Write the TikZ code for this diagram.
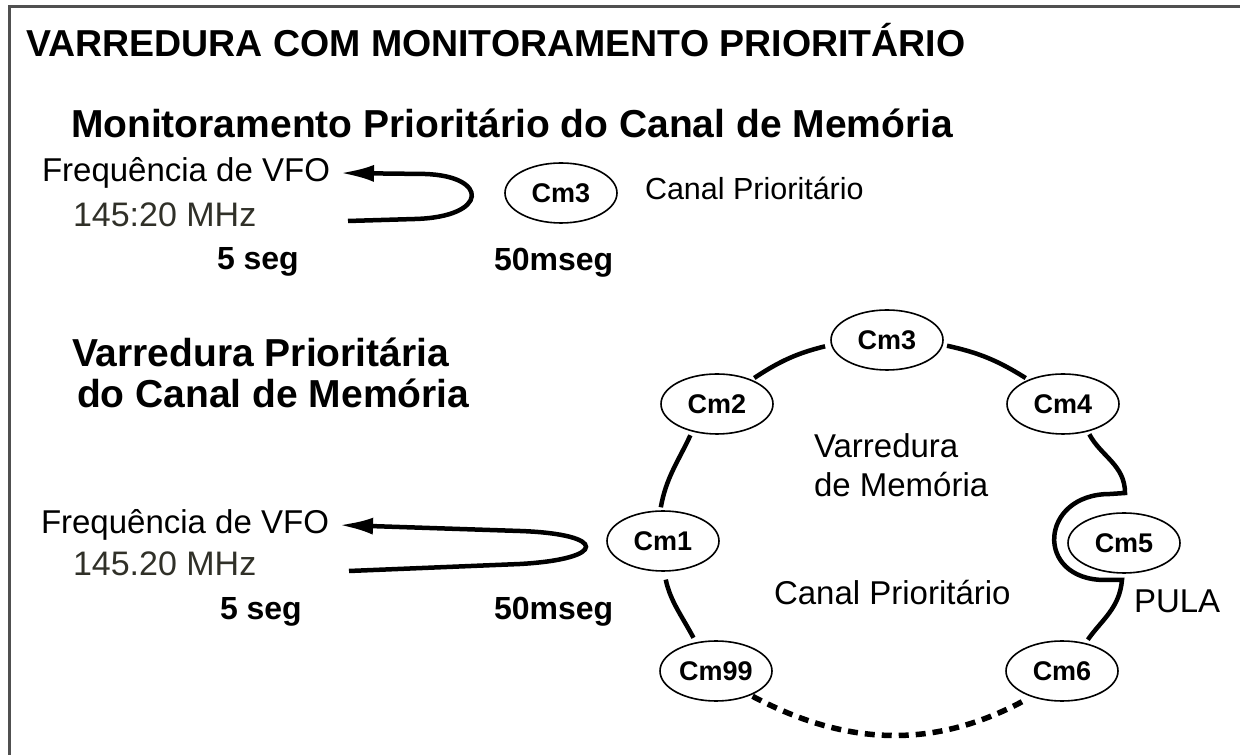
\documentclass[tikz,border=0pt]{standalone}
\usepackage{fontspec}
\setmainfont{Liberation Sans}
\usetikzlibrary{shapes.geometric,arrows.meta,calc}
\definecolor{framegray}{RGB}{80,80,80}
\definecolor{freqgray}{RGB}{48,48,40}
\begin{document}
\begin{tikzpicture}[x=1pt,y=1pt,
  lbl/.style={anchor=base west,inner sep=0pt,outer sep=0pt},
  titletxt/.style={lbl,font=\bfseries\fontsize{37.5}{37.5}\selectfont},
  headtxt/.style={lbl,font=\bfseries\fontsize{39}{39}\selectfont},
  freqtxt/.style={lbl,font=\fontsize{33}{33}\selectfont},
  mhztxt/.style={lbl,text=freqgray,font=\fontsize{34}{34}\selectfont},
  segtxt/.style={lbl,font=\bfseries\fontsize{32}{32}\selectfont},
  cptxt/.style={lbl,font=\fontsize{30.5}{30.5}\selectfont},
  ringlbl/.style={lbl,font=\fontsize{33}{33}\selectfont},
  cmnode/.style={ellipse,draw,line width=1.6pt,minimum width=112pt,minimum height=60pt,
    inner sep=0pt,font=\bfseries\fontsize{27}{27}\selectfont},
  loopline/.style={line width=4.5pt,-{Latex[length=34pt,width=17pt]}},
  ringline/.style={line width=4.5pt},
  dashring/.style={line width=5.5pt,dash pattern=on 10pt off 7pt},
  framestyle/.style={line width=3pt,draw=framegray}
]
\useasboundingbox (0,0) rectangle (1240,755);
% frame
\draw[framestyle] (1240,748) -- (9,748) -- (9,0);

% ---- upper part
\node[titletxt] (title) at (26,698) {VARREDURA COM MONITORAMENTO PRIORITÁRIO};
\node[headtxt] (sub) at (71,617) {Monitoramento Prioritário do Canal de Memória};
\node[freqtxt] (freq1) at (42,573) {Frequência de VFO};
\node[mhztxt] (mhz1) at (73,528) {145:20 MHz};
\node[segtxt] (seg1) at (217,485) {5 seg};
\node[segtxt] (ms1) at (494,484) {50mseg};
\node[cmnode] (cmtop) at (561,562) {Cm3};
\node[cptxt] (cp1) at (645,555) {Canal Prioritário};

\coordinate (start1) at (348,534);
\coordinate (tip1) at (340,582);
\draw[loopline] (start1) -- (415,536) .. controls (489,538) and (489,579) .. (425,581) -- (tip1);

% ---- lower part
\node[headtxt] (vp) at (72,388) {Varredura Prioritária};
\node[headtxt] (dcm) at (77,347) {do Canal de Memória};
\node[freqtxt] (freq2) at (41,221) {Frequência de VFO};
\node[mhztxt] (mhz2) at (73,179) {145.20 MHz};
\node[segtxt] (seg2) at (220,135) {5 seg};
\node[segtxt] (ms2) at (494,135) {50mseg};

\coordinate (start2) at (349,184);
\coordinate (tip2) at (339,230);
\draw[loopline] (start2) -- (520,191) .. controls (608,196) and (608,221) .. (520,224) -- (tip2);

% ring
\node[cmnode] (r3) at (887,415) {Cm3};
\node[cmnode] (r2) at (717,351) {Cm2};
\node[cmnode] (r4) at (1063,351) {Cm4};
\node[cmnode] (r1) at (663,214) {Cm1};
\node[cmnode] (r5) at (1124,212) {Cm5};
\node[cmnode] (r99) at (716,84) {Cm99};
\node[cmnode] (r6) at (1062,84) {Cm6};

\node[ringlbl] (vm1) at (814,297) {Varredura};
\node[ringlbl] (vm2) at (814,258) {de Memória};
\node[ringlbl] (cp2) at (774,150) {Canal Prioritário};
\node[ringlbl] (pula) at (1134,142) {PULA};

\draw[ringline,shorten <=3pt,shorten >=6pt] (r2.35) to[bend left=10] (r3.185);
\draw[ringline,shorten <=4pt,shorten >=3pt] (r3.-5) to[bend left=10] (r4.145);
\draw[ringline,shorten <=4pt,shorten >=3pt] (r2.228) to[out=245,in=80] (r1.95);
\draw[ringline,shorten <=8pt,shorten >=5pt] (r1.272) to[out=282,in=118] (r99.125);

\coordinate (j1) at ($(r5)+(1,50)$);
\coordinate (j2) at ($(r5)+(-14,49)$);
\coordinate (j3) at ($(r5)+(-19,-37)$);
\coordinate (j4) at ($(r5)+(-2,-37)$);
\draw[ringline,shorten <=3pt,shorten >=4pt] (r4.312) to[out=-62,in=90] (j1) -- (j2)
  .. controls ($(j2)+(-71,0)$) and ($(j3)+(-71,0)$) .. (j3) -- (j4)
  to[out=-95,in=55] (r6.50);

\draw[dashring,shorten <=2pt,shorten >=10pt] (r99.-35) to[out=-28,in=208] (r6.220);
\end{tikzpicture}
\end{document}
